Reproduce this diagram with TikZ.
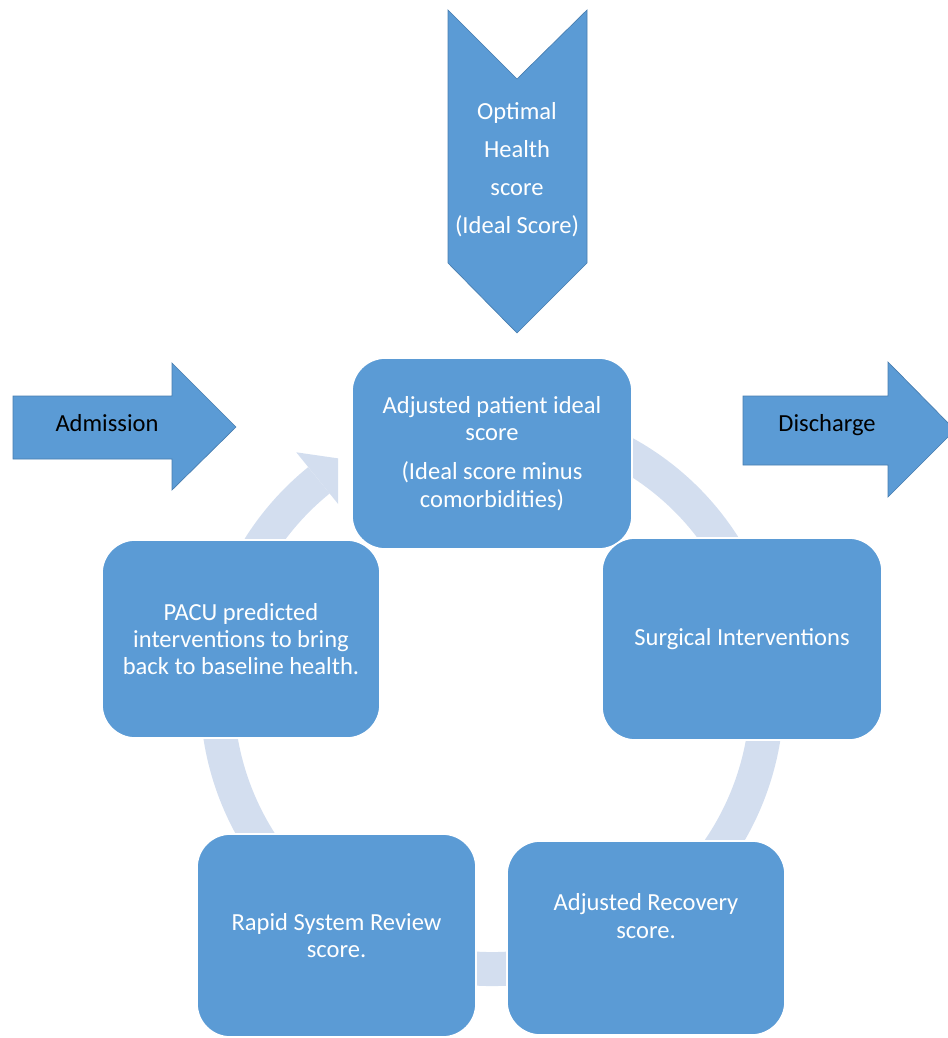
\documentclass[tikz,border=0pt]{standalone}
\usepackage{fontspec}
\setmainfont{Carlito}
\usetikzlibrary{calc}
\definecolor{boxblue}{RGB}{91,155,213}
\definecolor{ringblue}{RGB}{211,222,239}
\definecolor{edgeblue}{RGB}{72,125,175}

\begin{document}
\begin{tikzpicture}[line cap=butt,line join=miter,x=0.75pt,y=-0.75pt,
	box/.style={draw=white,line width=1.2pt,fill=boxblue,rounded corners=25pt,text=white,align=center,inner sep=0pt,font=\fontsize{18.4}{20.5}\selectfont},
	txt/.style={align=center,inner sep=0pt,font=\fontsize{18.4}{20.5}\selectfont},
	ring/.style={draw=ringblue,line width=25.5pt},
	bigarrow/.style={fill=boxblue,draw=edgeblue,line width=0.5pt}]
				\useasboundingbox (0,0) rectangle (947,1038);
				\coordinate (c) at (492,694);
				% cycle ring behind the boxes
				\draw [ring] (c) ++(244:275) arc [start angle=244,end angle=591,radius=275];
				\begin{scope}
					\clip (0,0) rectangle (338,1038);
					\fill [ringblue] ($(c)+(231:311)$) -- ($(c)+(238.4:275)$) -- ($(c)+(231:241)$) -- cycle;
				\end{scope}
				% chevron and side arrows
				\draw [bigarrow] (448,10) -- (517,79) -- (587,10) -- (587,263) -- (517,333) -- (448,263) -- cycle;
				\node [txt,text=white,font=\fontsize{18.4}{28.5}\selectfont] (optimal) at (517,170) {Optimal\\Health\\score\\(Ideal Score)};
				\draw [bigarrow] (13,396) -- (172,396) -- (172,363) -- (236,427) -- (172,490) -- (172,459) -- (13,459) -- cycle;
				\node [txt] (admission) at (107,423) {Admission};
				\draw [bigarrow] (743,396) -- (888,396) -- (888,362) -- (955,430) -- (888,497) -- (888,465) -- (743,465) -- cycle;
				\node [txt] (discharge) at (827,425) {Discharge};
				% the five steps
				\node [box,minimum width=210pt,minimum height=143.2pt] (ideal) at (492,453.5) {Adjusted patient ideal\\score\\[9pt](Ideal score minus\\comorbidities)};
				\node [box,minimum width=210pt,minimum height=151.5pt] (surgical) at (742,639) {Surgical Interventions};
				\node [box,minimum width=208.5pt,minimum height=145.5pt] (recovery) at (646,938) {};
				\node [txt,text=white] (recoverytxt) at (646,916) {Adjusted Recovery\\score.};
				\node [box,minimum width=209.2pt,minimum height=152.2pt] (rapid) at (336.5,935.5) {Rapid System Review\\score.};
				\node [box,minimum width=208.5pt,minimum height=148.5pt] (pacu) at (241,639) {PACU predicted\\interventions to bring\\back to baseline health.};
			\end{tikzpicture}
\end{document}
